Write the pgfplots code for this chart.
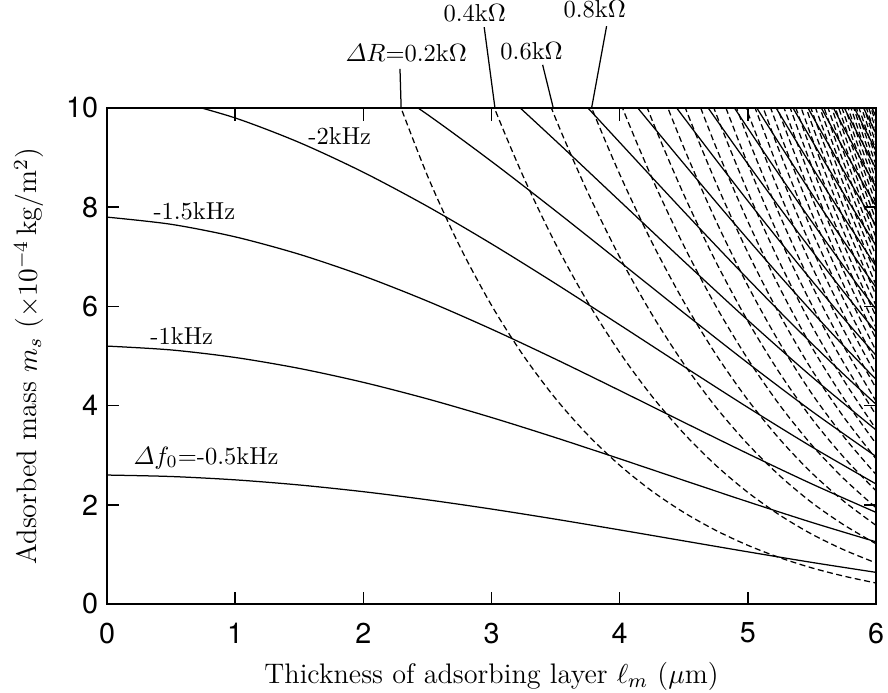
\documentclass[border=0pt]{standalone}
\usepackage{amsmath}
\usepackage{fontspec}
\usepackage{pgfplots}
\pgfplotsset{compat=1.18}
\newfontfamily\helv{TeX Gyre Heros}
\pgfplotsset{
  sol/.style={black, solid, line width=0.5pt, no markers, smooth},
  dsh/.style={black, line width=0.5pt, no markers, smooth, dash pattern=on 2.4pt off 1.4pt},
}
\begin{document}
\begin{tikzpicture}
\useasboundingbox (-42.8pt,-35.2pt) rectangle (312.4pt,241.6pt);
\begin{axis}[
  at={(0,0)}, anchor=south west,
  scale only axis, width=307.6pt, height=198.4pt,
  xmin=0, xmax=6, ymin=0, ymax=10,
  xtick={0,1,2,3,4,5,6}, ytick={0,2,4,6,8,10},
  tick align=inside, tick pos=both, major tick length=5pt,
  /pgf/number format/assume math mode=true,
  ticklabel style={font=\helv\fontsize{11.5}{13}\selectfont},
  xticklabel style={yshift=-4pt},
  xlabel={Thickness of adsorbing layer $\ell_m$ ($\mu$m)},
  ylabel={Adsorbed mass $m_s$ ($\times10^{-4}$\,kg/m$^2$)},
  label style={font=\fontsize{11.3}{13}\selectfont},
  xlabel style={yshift=-0.5pt},
  ylabel style={yshift=2pt},
  clip mode=individual,
  axis line style={line width=0.7pt},
  every tick/.style={black, line width=0.6pt},
]
% ---- constant frequency shift (solid) ----
\addplot[sol] coordinates {(0,2.6)(0.5,2.5707)(1,2.5033)(1.5,2.4001)(2,2.2647)(2.5,2.1012)(3,1.9145)(3.5,1.7102)(4,1.4943)(4.5,1.2728)(5,1.0521)(5.5,0.8385)(6,0.6382)};
\addplot[sol] coordinates {(0,5.2)(0.5,5.1224)(1,4.9705)(1.5,4.75)(2,4.4688)(2.5,4.1357)(3,3.7606)(3.5,3.3543)(4,2.9281)(4.5,2.4933)(5,2.0616)(5.5,1.6446)(6,1.2535)};
\addplot[sol] coordinates {(0,7.8)(0.5,7.6554)(1,7.4023)(1.5,7.0511)(2,6.6147)(2.5,6.1066)(3,5.5419)(3.5,4.9361)(4,4.305)(4.5,3.6647)(5,3.0311)(5.5,2.4201)(6,1.8473)};
\addplot[sol] coordinates {(0.5,10.17)(1,9.7995)(1.5,9.3051)(2,8.7045)(2.5,8.0168)(3,7.2617)(3.5,6.459)(4,5.6285)(4.5,4.79)(5,3.9629)(5.5,3.1668)(6,2.4206)};
\addplot[sol] coordinates {(2,10.741)(2.5,9.8692)(3,8.9232)(3.5,7.9262)(4,6.9015)(4.5,5.8717)(5,4.8592)(5.5,3.8862)(6,2.9744)};
\addplot[sol] coordinates {(2.5,11.666)(3,10.529)(3.5,9.3407)(4,8.1268)(4.5,6.9125)(5,5.722)(5.5,4.5797)(6,3.5097)};
\addplot[sol] coordinates {(3.5,10.705)(3.75,10.007)(4,9.3072)(4.25,8.6085)(4.5,7.9144)(4.75,7.2282)(5,6.553)(5.25,5.8922)(5.5,5.2488)(5.75,4.6261)(6,4.0275)};
\addplot[sol] coordinates {(3.75,11.234)(4,10.445)(4.25,9.6591)(4.5,8.8798)(4.75,8.1104)(5,7.3541)(5.25,6.6145)(5.5,5.8947)(5.75,5.1982)(6,4.5286)};
\addplot[sol] coordinates {(4,11.542)(4.25,10.672)(4.5,9.8105)(4.75,8.961)(5,8.1268)(5.25,7.3115)(5.5,6.5186)(5.75,5.7514)(6,5.0137)};
\addplot[sol] coordinates {(4.25,11.649)(4.5,10.708)(4.75,9.7817)(5,8.8727)(5.25,7.9848)(5.5,7.1216)(5.75,6.2867)(6,5.4837)};
\addplot[sol] coordinates {(4.5,11.575)(4.75,10.574)(5,9.5929)(5.25,8.6353)(5.5,7.7048)(5.75,6.8048)(6,5.9392)};
\addplot[sol] coordinates {(4.75,11.339)(5,10.289)(5.25,9.2643)(5.5,8.269)(5.75,7.3066)(6,6.3809)};
\addplot[sol] coordinates {(4.75,12.079)(5,10.962)(5.25,9.8729)(5.5,8.8153)(5.75,7.7928)(6,6.8094)};
\addplot[sol] coordinates {(5,11.613)(5.25,10.462)(5.5,9.3444)(5.75,8.2643)(6,7.2253)};
\addplot[sol] coordinates {(5,12.243)(5.25,11.032)(5.5,9.8573)(5.75,8.7216)(6,7.6291)};
\addplot[sol] coordinates {(5.25,11.585)(5.5,10.354)(5.75,9.1653)(6,8.0214)};
\addplot[sol] coordinates {(5.25,12.121)(5.5,10.837)(5.75,9.5961)(6,8.4027)};
\addplot[sol] coordinates {(5.5,11.305)(5.75,10.015)(6,8.7733)};
\addplot[sol] coordinates {(5.5,11.759)(5.75,10.421)(6,9.1338)};
\addplot[sol] coordinates {(5.5,12.2)(5.75,10.816)(6,9.4845)};
\addplot[sol] coordinates {(5.75,11.201)(6,9.8258)};
% ---- constant resistance change (dashed) ----
\addplot[dsh] coordinates {(2.25,10.301)(2.5,8.6363)(2.75,7.223)(3,6.0228)(3.25,5.0044)(3.5,4.1417)(3.75,3.4126)(4,2.7978)(4.25,2.2808)(4.5,1.8472)(4.75,1.4849)(5,1.1835)(5.25,0.9337)(5.5,0.728)(5.75,0.5616)(6,0.4235)};
\addplot[dsh] coordinates {(2.75,11.91)(3,10.148)(3.25,8.6073)(3.5,7.2617)(3.75,6.0897)(4,5.073)(4.25,4.195)(4.5,3.4409)(4.75,2.797)(5,2.2509)(5.25,1.7909)(5.5,1.4067)(5.75,1.0918)(6,0.828)};
\addplot[dsh] coordinates {(3.25,11.464)(3.5,9.789)(3.75,8.3056)(4,6.9968)(4.25,5.8471)(4.5,4.8432)(4.75,3.9724)(5,3.2229)(5.25,2.583)(5.5,2.042)(5.75,1.5938)(6,1.2148)};
\addplot[dsh] coordinates {(3.5,11.922)(3.75,10.202)(4,8.6661)(4.25,7.3015)(4.5,6.0954)(4.75,5.0367)(5,4.1147)(5.25,3.3189)(5.5,2.639)(5.75,2.0702)(6,1.5855)};
\addplot[dsh] coordinates {(3.75,11.861)(4,10.142)(4.25,8.6009)(4.5,7.2267)(4.75,6.0088)(5,4.9383)(5.25,4.0057)(5.5,3.2017)(5.75,2.5234)(6,1.9411)};
\addplot[dsh] coordinates {(4,11.465)(4.25,9.7753)(4.5,8.258)(4.75,6.9033)(5,5.7032)(5.25,4.6493)(5.5,3.7338)(5.75,2.955)(6,2.2828)};
\addplot[dsh] coordinates {(4,12.663)(4.25,10.847)(4.5,9.2055)(4.75,7.7313)(5,6.4167)(5.25,5.2545)(5.5,4.2381)(5.75,3.368)(6,2.6116)};
\addplot[dsh] coordinates {(4.25,11.831)(4.5,10.082)(4.75,8.5019)(5,7.0853)(5.25,5.8256)(5.5,4.7173)(5.75,3.7627)(6,2.9282)};
\addplot[dsh] coordinates {(4.5,10.896)(4.75,9.2221)(5,7.714)(5.25,6.366)(5.5,5.1737)(5.75,4.141)(6,3.2336)};
\addplot[dsh] coordinates {(4.5,11.657)(4.75,9.8981)(5,8.3071)(5.25,6.8787)(5.5,5.6091)(5.75,4.5039)(6,3.5284)};
\addplot[dsh] coordinates {(4.75,10.535)(5,8.8682)(5.25,7.3661)(5.5,6.0253)(5.75,4.8528)(6,3.8133)};
\addplot[dsh] coordinates {(4.75,11.136)(5,9.4006)(5.25,7.8306)(5.5,6.4239)(5.75,5.1884)(6,4.0888)};
\addplot[dsh] coordinates {(4.75,11.706)(5,9.9066)(5.25,8.2741)(5.5,6.806)(5.75,5.5117)(6,4.3555)};
\addplot[dsh] coordinates {(5,10.389)(5.25,8.6982)(5.5,7.1731)(5.75,5.8236)(6,4.6139)};
\addplot[dsh] coordinates {(5,10.849)(5.25,9.1046)(5.5,7.5261)(5.75,6.1247)(6,4.8645)};
\addplot[dsh] coordinates {(5,11.29)(5.25,9.4945)(5.5,7.8659)(5.75,6.4157)(6,5.1077)};
\addplot[dsh] coordinates {(5,11.712)(5.25,9.869)(5.5,8.1935)(5.75,6.6972)(6,5.3438)};
\addplot[dsh] coordinates {(5.25,10.229)(5.5,8.5097)(5.75,6.9697)(6,5.5732)};
\addplot[dsh] coordinates {(5.25,10.577)(5.5,8.8152)(5.75,7.2338)(6,5.7964)};
\addplot[dsh] coordinates {(5.25,10.911)(5.5,9.1105)(5.75,7.4899)(6,6.0134)};
\addplot[dsh] coordinates {(5.25,11.235)(5.5,9.3963)(5.75,7.7385)(6,6.2249)};
\addplot[dsh] coordinates {(5.25,11.547)(5.5,9.6733)(5.75,7.9799)(6,6.4306)};
\addplot[dsh] coordinates {(5.25,11.849)(5.5,9.9416)(5.75,8.2145)(6,6.6314)};
\addplot[dsh] coordinates {(5.5,10.202)(5.75,8.4427)(6,6.827)};
\addplot[dsh] coordinates {(5.5,10.455)(5.75,8.6647)(6,7.018)};
\addplot[dsh] coordinates {(5.5,10.701)(5.75,8.8808)(6,7.2043)};
\addplot[dsh] coordinates {(5.5,10.939)(5.75,9.0915)(6,7.3862)};
\addplot[dsh] coordinates {(5.5,11.172)(5.75,9.2968)(6,7.564)};
\addplot[dsh] coordinates {(5.5,11.398)(5.75,9.497)(6,7.7377)};
\addplot[dsh] coordinates {(5.5,11.618)(5.75,9.6923)(6,7.9076)};
\addplot[dsh] coordinates {(5.5,11.833)(5.75,9.8831)(6,8.0738)};
\addplot[dsh] coordinates {(5.75,10.069)(5.875,9.1245)(6,8.2364)};
\addplot[dsh] coordinates {(5.75,10.251)(5.875,9.2951)(6,8.3955)};
\addplot[dsh] coordinates {(5.75,10.429)(5.875,9.462)(6,8.5514)};
\addplot[dsh] coordinates {(5.75,10.603)(5.875,9.6253)(6,8.704)};
\addplot[dsh] coordinates {(5.75,10.773)(5.875,9.7853)(6,8.8536)};
\addplot[dsh] coordinates {(5.75,10.94)(5.875,9.942)(6,9.0003)};
\addplot[dsh] coordinates {(5.875,10.096)(6,9.1441)};
\addplot[dsh] coordinates {(5.875,10.246)(6,9.2852)};
\addplot[dsh] coordinates {(5.875,10.393)(6,9.4235)};
\addplot[dsh] coordinates {(5.875,10.538)(6,9.5592)};
\addplot[dsh] coordinates {(5.875,10.68)(6,9.6925)};
\addplot[dsh] coordinates {(5.875,10.819)(6,9.8234)};
\addplot[dsh] coordinates {(5.875,10.955)(6,9.9518)};
% ---- labels ----
\node[anchor=base west, inner sep=0pt, font=\fontsize{9.8}{11}\selectfont] at (axis cs:1.568,9.27) {-2kHz};
\node[anchor=base west, inner sep=0pt, font=\fontsize{9.8}{11}\selectfont] at (axis cs:0.359,7.76) {-1.5kHz};
\node[anchor=base west, inner sep=0pt, font=\fontsize{9.8}{11}\selectfont] at (axis cs:0.335,5.24) {-1kHz};
\node[anchor=base west, inner sep=0pt, font=\fontsize{9.8}{11}\selectfont] at (axis cs:0.203,2.82) {$\varDelta f_0$=-0.5kHz};
\node[anchor=base west, inner sep=0pt, font=\fontsize{9.8}{11}\selectfont] at (axis cs:1.857,10.93) {$\varDelta R$=0.2k$\Omega$};
\node[anchor=base west, inner sep=0pt, font=\fontsize{9.8}{11}\selectfont] at (axis cs:2.622,11.74) {0.4k$\Omega$};
\node[anchor=base west, inner sep=0pt, font=\fontsize{9.8}{11}\selectfont] at (axis cs:3.066,10.97) {0.6k$\Omega$};
\node[anchor=base west, inner sep=0pt, font=\fontsize{9.8}{11}\selectfont] at (axis cs:3.558,11.83) {0.8k$\Omega$};
\draw[line width=0.5pt] (axis cs:2.286,10.79) -- (axis cs:2.295,10);
\draw[line width=0.5pt] (axis cs:2.943,11.63) -- (axis cs:3.027,10);
\draw[line width=0.5pt] (axis cs:3.399,10.87) -- (axis cs:3.482,10);
\draw[line width=0.5pt] (axis cs:3.898,11.65) -- (axis cs:3.781,10);
\end{axis}
\end{tikzpicture}
\end{document}
